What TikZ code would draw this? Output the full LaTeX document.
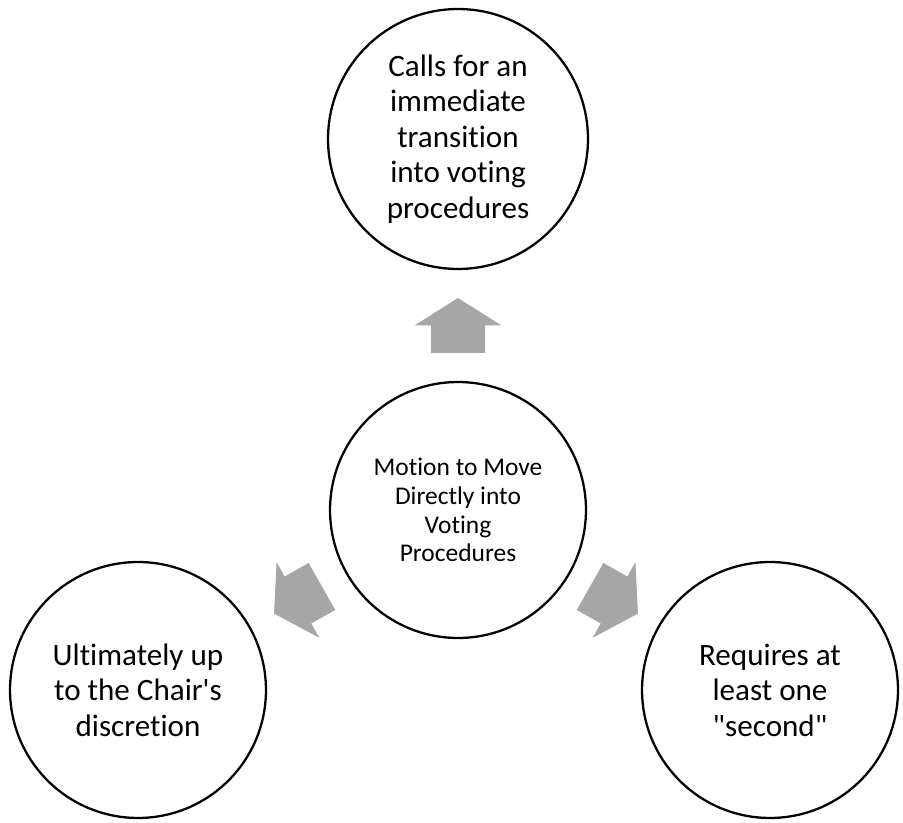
\documentclass[tikz,border=0pt]{standalone}
\usepackage{fontspec}
\setmainfont{Carlito}[Ligatures={ResetAll,CommonOff}]
\usetikzlibrary{calc}
\definecolor{arrowgray}{RGB}{166,166,166}
% plain Carlito with no TeX quote mapping, for straight quote marks
\font\plaincarlito="Carlito" at 17.7pt
\newcommand{\straightdq}{{\plaincarlito\symbol{34}}}
\newcommand{\straightsq}{{\plaincarlito\symbol{39}}}
\tikzset{
  bubble/.style={circle, draw=black, line width=1.3pt, fill=white, align=center, inner sep=0pt},
  outerbubble/.style={bubble, minimum size=5.12cm,
    font=\fontsize{17.7pt}{20.2pt}\selectfont},
  hubbubble/.style={bubble, minimum size=5.12cm,
    font=\fontsize{14.5pt}{16.4pt}\selectfont},
  blockarrow/.style={fill=arrowgray, draw=none}
}
% block arrow pointing along +x, centred on the origin
\newcommand{\blockarrowpath}{(-27.5,-27) -- (0,-27) -- (0,-43.5) -- (27.5,0) -- (0,43.5) -- (0,27) -- (-27.5,27) -- cycle}
\begin{document}
\begin{tikzpicture}[x=0.02cm, y=0.02cm]
  \useasboundingbox (0,0) rectangle (903,822);

  \node[hubbubble] (hub) at (458,312) {Motion to Move\\Directly into\\Voting\\Procedures};
  \node[outerbubble, minimum size=5.2cm] (top) at (458,683) {Calls for an\\immediate\\transition\\into voting\\procedures};
  \node[outerbubble] (left) at (138,132) {Ultimately up\\to the Chair\straightsq s\\discretion};
  \node[outerbubble] (right) at (770,132) {Requires at\\least one\\\straightdq second\straightdq};

  % arrows half-way between the hub and each outer circle
  \path[blockarrow, shift={($(hub.north)!0.5!(top.south)$)}, rotate=90] \blockarrowpath;
  \path[blockarrow, shift={($(hub.210)!0.5!(left.30)$)}, rotate=209.5] \blockarrowpath;
  \path[blockarrow, shift={($(hub.330)!0.5!(right.150)$)}, rotate=330.5] \blockarrowpath;
\end{tikzpicture}
\end{document}
